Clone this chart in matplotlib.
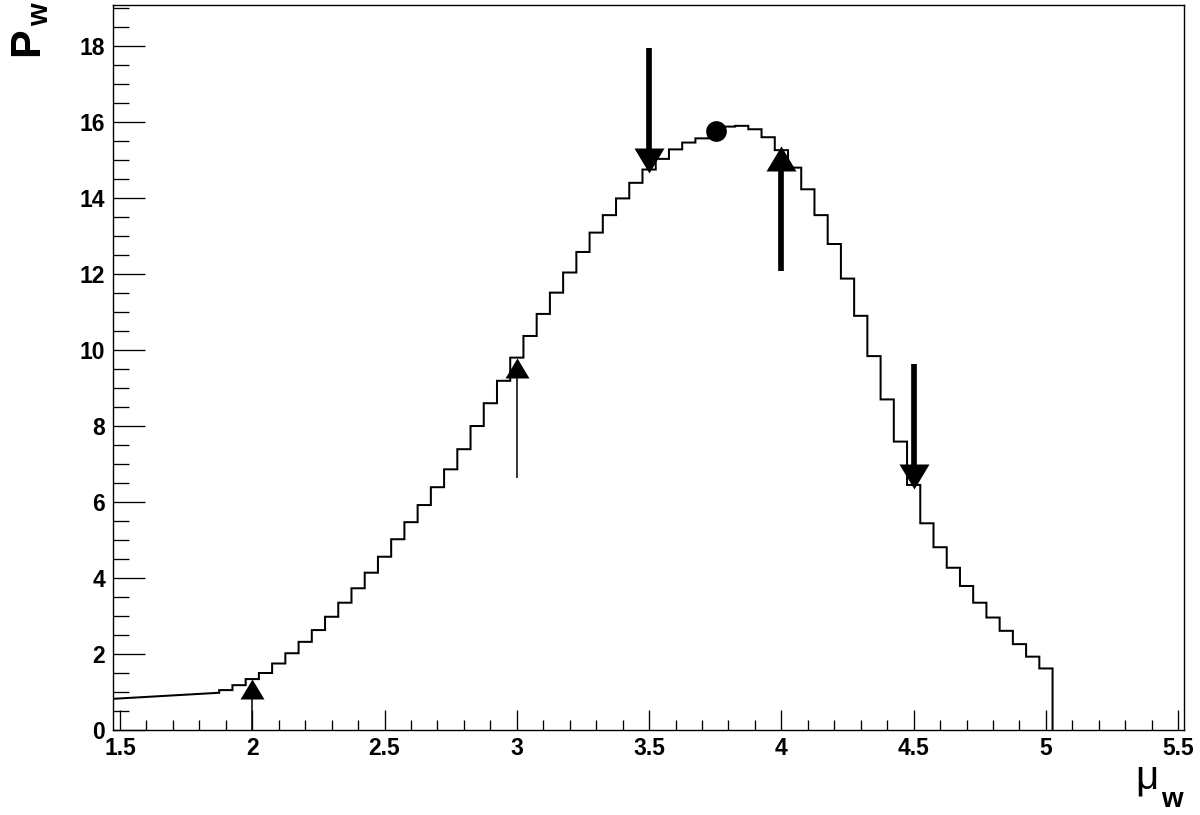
import matplotlib
matplotlib.use("Agg")
import matplotlib.pyplot as plt
from matplotlib.ticker import MultipleLocator
import numpy as np

plt.rcParams['font.family'] = ['Liberation Sans', 'DejaVu Sans']

# ---------------- data ----------------
bin_start = 1.875
bin_width = 0.05
hist_values = [
    1.05, 1.18, 1.34, 1.50, 1.75, 2.02, 2.32, 2.63, 2.98, 3.35,
    3.73, 4.14, 4.56, 5.02, 5.47, 5.92, 6.39, 6.86, 7.39, 8.00,
    8.60, 9.19, 9.80, 10.37, 10.95, 11.51, 12.04, 12.58, 13.09, 13.55,
    13.99, 14.40, 14.75, 15.03, 15.28, 15.46, 15.57, 15.75, 15.88, 15.90,
    15.81, 15.60, 15.26, 14.80, 14.23, 13.55, 12.79, 11.88, 10.90, 9.84,
    8.70, 7.59, 6.45, 5.44, 4.81, 4.27, 3.79, 3.35, 2.96, 2.61,
    2.26, 1.93, 1.62,
]
# sloped segment at the low end of the curve
tail_x = [1.4724, 1.875]
tail_y = [0.82, 0.98]

# arrows: x, start y, tip y
up_arrow_x = [2.0, 3.0, 4.0]
up_arrow_y0 = [0.0, 6.62, 12.08]
up_arrow_tip = [1.34, 9.79, 15.37]
up_arrow_thick = [False, False, True]

down_arrow_x = [3.5, 4.5]
down_arrow_y0 = [17.94, 9.62]
down_arrow_tip = [14.65, 6.33]
down_arrow_thick = [True, True]

dot_x = [3.754]
dot_y = [15.77]

x_ticks = [1.5, 2.0, 2.5, 3.0, 3.5, 4.0, 4.5, 5.0, 5.5]
x_tick_labels = ['1.5', '2', '2.5', '3', '3.5', '4', '4.5', '5', '5.5']
y_ticks = [0, 2, 4, 6, 8, 10, 12, 14, 16, 18]
y_tick_labels = ['0', '2', '4', '6', '8', '10', '12', '14', '16', '18']

x_range = (1.4724, 5.523)
y_range = (0.0, 19.08)

# ---------------- figure ----------------
W, H = 1200, 815
fig = plt.figure(figsize=(W / 100, H / 100), dpi=100)
ax_l, ax_r, ax_t, ax_b = 112.7, 1184.3, 5.0, 730.0
ax = fig.add_axes([ax_l / W, 1 - ax_b / H, (ax_r - ax_l) / W, (ax_b - ax_t) / H])
ax.set_xlim(*x_range)
ax.set_ylim(*y_range)

# histogram path
edges = bin_start + bin_width * np.arange(len(hist_values) + 1)
px = list(tail_x)
py = list(tail_y)
for i, v in enumerate(hist_values):
    px += [edges[i], edges[i + 1]]
    py += [v, v]
px.append(edges[-1])
py.append(0.0)
ax.plot(px, py, color='black', lw=1.45, solid_joinstyle='miter', zorder=3)

# axis styling
for s in ax.spines.values():
    s.set_linewidth(1.0)
ax.set_xticks(x_ticks)
ax.set_xticklabels(x_tick_labels)
ax.set_yticks(y_ticks)
ax.set_yticklabels(y_tick_labels)
ax.xaxis.set_minor_locator(MultipleLocator(0.1))
ax.yaxis.set_minor_locator(MultipleLocator(0.5))
ax.tick_params(which='both', direction='in', top=False, right=False, width=0.95)
ax.tick_params(axis='x', which='major', length=14.4, pad=5.0, labelsize=16.5)
ax.tick_params(axis='x', which='minor', length=7.2)
ax.tick_params(axis='y', which='major', length=23, pad=5.5, labelsize=16.5)
ax.tick_params(axis='y', which='minor', length=11.5)
for lab in ax.get_xticklabels() + ax.get_yticklabels():
    lab.set_fontweight('bold')

# arrows
fig.canvas.draw()
pix_per_unit = ax.transData.transform((0, 1))[1] - ax.transData.transform((0, 0))[1]
tri_up = [(0, 0), (-0.6, -1), (0.6, -1), (0, 0)]
tri_down = [(0, 0), (-0.6, 1), (0.6, 1), (0, 0)]


def draw_arrow(x, y0, tip, thick, up):
    ms_px = 50 if thick else 40
    lw = 4.1 if thick else 1.1
    tri_h = 0.5 * ms_px / pix_per_unit
    end = tip - tri_h * 0.6 if up else tip + tri_h * 0.6
    ax.plot([x, x], [y0, end], color='black', lw=lw, solid_capstyle='butt', zorder=4)
    ax.plot([x], [tip], marker=tri_up if up else tri_down, markersize=ms_px * 0.72,
            color='black', markeredgewidth=0, linestyle='none', zorder=5)


for x, y0, t, th in zip(up_arrow_x, up_arrow_y0, up_arrow_tip, up_arrow_thick):
    draw_arrow(x, y0, t, th, True)
for x, y0, t, th in zip(down_arrow_x, down_arrow_y0, down_arrow_tip, down_arrow_thick):
    draw_arrow(x, y0, t, th, False)

ax.plot(dot_x, dot_y, marker='o', markersize=20.7 * 0.72, color='black',
        markeredgewidth=0, linestyle='none', zorder=6)


# axis titles
def fx(p):
    return p / W


def fy(p):
    return 1 - p / H


fig.text(fx(38), fy(56), 'P', rotation=90, rotation_mode='anchor', ha='left',
         va='baseline', fontsize=31, fontweight='bold')
fig.text(fx(48), fy(26), 'w', rotation=90, rotation_mode='anchor', ha='left',
         va='baseline', fontsize=21, fontweight='bold')
fig.text(fx(1135), fy(788), 'μ', ha='left', va='baseline', fontsize=29)
fig.text(fx(1183), fy(807), 'w', ha='right', va='baseline', fontsize=20,
         fontweight='bold')

fig.savefig('out.png', dpi=100)
